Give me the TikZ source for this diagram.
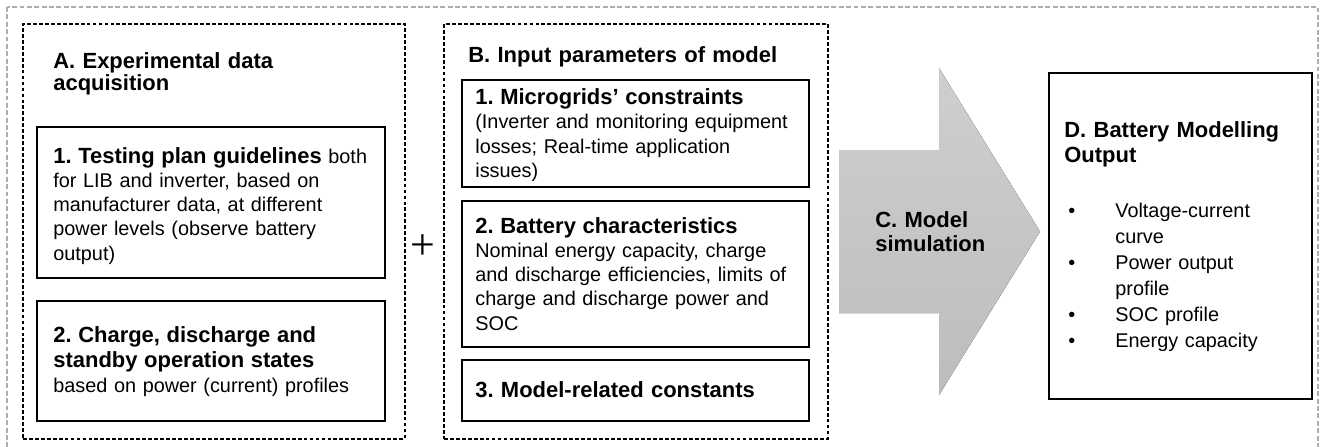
\documentclass[tikz,border=0pt]{standalone}
\usepackage{fontspec}
\setmainfont{Liberation Sans}
\newfontfamily\plusfont{Liberation Serif}
\frenchspacing

\newcommand{\bodyfont}[1]{\fontsize{11.3}{#1}\selectfont}
\newcommand{\headfont}[1]{\fontsize{12.5}{#1}\selectfont\bfseries}
\newcommand{\bfhead}[1]{{\fontsize{12.5}{\the\baselineskip}\selectfont\bfseries #1}}
\newcommand{\itemdot}{\makebox[0.94cm][l]{•}}
\newcommand{\itemgap}{\hspace*{0.94cm}}

\begin{document}
\begin{tikzpicture}[
    outerbox/.style={draw=black!32, dash pattern=on 2.8pt off 1.4pt, line width=0.6pt},
    groupbox/.style={draw, dash pattern=on 2.2pt off 1.2pt, line width=0.9pt, anchor=north west, inner sep=0pt},
    stepbox/.style={draw, line width=1.2pt, anchor=north west, inner sep=0pt},
    txt/.style={anchor=base west, inner sep=0pt, text width=7cm, align=left, font=\bodyfont{13.8pt}}
  ]
    \useasboundingbox (0,0) rectangle (26.42,-8.92);

    % Outer frame
    \draw[outerbox] (0.14,-0.14) rectangle (26.36,-9.3);

    % A: experimental data acquisition
    \node[groupbox, minimum width=7.64cm, minimum height=8.3cm] (boxA) at (0.44,-0.46) {};
    \node[txt, font=\headfont{13pt}] (titleA) at (1.06,-1.36) {A. Experimental data\\acquisition};
    \node[stepbox, minimum width=6.96cm, minimum height=3.02cm] (stepA1) at (0.72,-2.52) {};
    \node[txt] (textA1) at (1.06,-3.26) {\bfhead{1. Testing plan guidelines} both\\for LIB and inverter, based on\\manufacturer data, at different\\power levels (observe battery\\output)};
    \node[stepbox, minimum width=6.96cm, minimum height=2.4cm] (stepA2) at (0.72,-6.0) {};
    \node[txt, font=\bodyfont{14.5pt}] (textA2) at (1.06,-6.84) {\bfhead{2. Charge, discharge and}\\\bfhead{standby operation states}\\based on power (current) profiles};

    % Plus between A and B
    \node[inner sep=0pt, font=\plusfont\fontsize{25}{25}\selectfont] (plus) at (8.46,-4.94) {+};

    % B: input parameters
    \node[groupbox, minimum width=7.68cm, minimum height=8.3cm] (boxB) at (8.86,-0.46) {};
    \node[txt, font=\headfont{13.8pt}] (titleB) at (9.36,-1.24) {B. Input parameters of model};
    \node[stepbox, minimum width=6.94cm, minimum height=2.14cm] (stepB1) at (9.22,-1.58) {};
    \node[txt, font=\bodyfont{14pt}] (textB1) at (9.5,-2.08) {\bfhead{1. Microgrids’ constraints}\\(Inverter and monitoring equipment\\losses; Real-time application\\issues)};
    \node[stepbox, minimum width=6.94cm, minimum height=2.92cm] (stepB2) at (9.22,-4.0) {};
    \node[txt] (textB2) at (9.5,-4.66) {\bfhead{2. Battery characteristics}\\Nominal energy capacity, charge\\and discharge efficiencies, limits of\\charge and discharge power and\\SOC};
    \node[stepbox, minimum width=6.94cm, minimum height=1.22cm] (stepB3) at (9.22,-7.18) {};
    \node[txt, font=\headfont{13.8pt}] (textB3) at (9.5,-7.94) {3. Model-related constants};

    % C: simulation arrow
    \fill[top color=black!19, bottom color=black!26] (16.78,-3.0) -- (18.78,-3.0) -- (18.78,-1.36) -- (20.8,-4.63)
        -- (18.78,-7.9) -- (18.78,-6.26) -- (16.78,-6.26) -- cycle;
    \node[txt, font=\headfont{14.2pt}] (titleC) at (17.5,-4.54) {C. Model\\simulation};

    % D: output
    \node[stepbox, minimum width=5.26cm, minimum height=6.52cm] (boxD) at (20.96,-1.44) {};
    \node[txt, font=\headfont{14.7pt}] (titleD) at (21.28,-2.74) {D. Battery Modelling\\Output};
    \node[txt, font=\bodyfont{14.85pt}] (listD) at (21.36,-4.34) {\itemdot Voltage-current\\\itemgap curve\\\itemdot Power output\\\itemgap profile\\\itemdot SOC profile\\\itemdot Energy capacity};
\end{tikzpicture}
\end{document}
